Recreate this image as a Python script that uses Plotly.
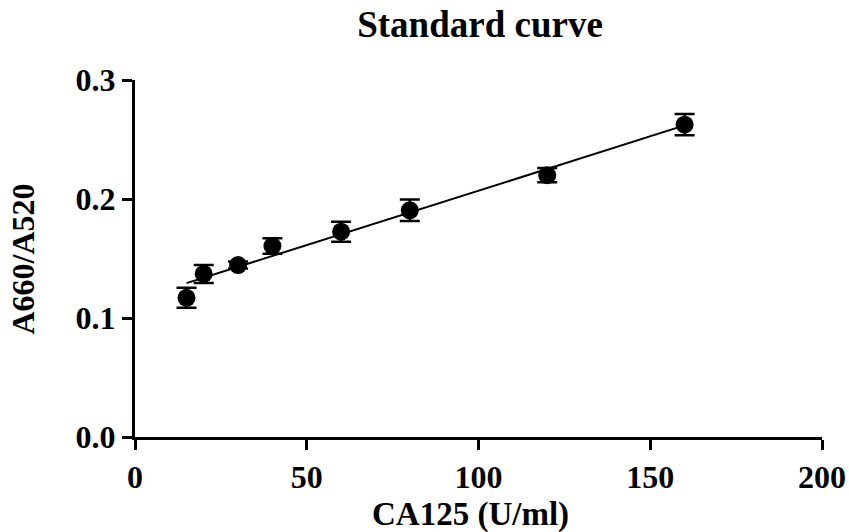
import numpy as np
import plotly.graph_objects as go

conc = [15, 20, 30, 40, 60, 80, 120, 160]
ratio = [0.117, 0.137, 0.1445, 0.1605, 0.1725, 0.1905, 0.220, 0.2625]
err = [0.0084, 0.0076, 0.003, 0.0065, 0.0084, 0.009, 0.006, 0.009]

slope, intercept = np.polyfit(conc, ratio, 1)
fit_x = [min(conc), max(conc)]
fit_y = [slope * v + intercept for v in fit_x]

font = "Liberation Serif"
fig = go.Figure()
fig.add_trace(go.Scatter(x=fit_x, y=fit_y, mode="lines",
                         line=dict(color="black", width=2), showlegend=False))
fig.add_trace(go.Scatter(x=conc, y=ratio, mode="markers",
                         marker=dict(color="black", size=18),
                         error_y=dict(type="data", array=err, color="black", thickness=2.5, width=10),
                         showlegend=False))

fig.update_layout(
    width=849, height=532,
    margin=dict(l=135, r=27, t=80, b=95),
    paper_bgcolor="white", plot_bgcolor="white",
    title=dict(text="<b>Standard curve</b>", x=480 / 849, xanchor="center", y=1 - 24 / 532, yanchor="middle",
               font=dict(family=font, size=37, color="black")),
    font=dict(family=font, color="black"),
    annotations=[
        dict(text="<b>CA125 (U/ml)</b>", xref="paper", yref="paper", x=(470 - 135) / 687, y=-(514 - 437) / 357,
             xanchor="center", yanchor="middle", showarrow=False,
             font=dict(family=font, size=33, color="black")),
        dict(text="<b>A660/A520</b>", xref="paper", yref="paper", x=-(135 - 22) / 687, y=0.5,
             xanchor="center", yanchor="middle", showarrow=False, textangle=-90,
             font=dict(family=font, size=32, color="black")),
    ],
)
fig.update_xaxes(range=[0, 200], tickvals=[0, 50, 100, 150, 200],
                 ticktext=["<b>0</b>", "<b>50</b>", "<b>100</b>", "<b>150</b>", "<b>200</b>"],
                 showgrid=False, zeroline=False, showline=True, linecolor="black", linewidth=3,
                 ticks="outside", ticklen=10, tickwidth=3, tickcolor="black", automargin=False,
                 tickfont=dict(family=font, size=32, color="black"))
fig.update_yaxes(range=[0, 0.3], tickvals=[0, 0.1, 0.2, 0.3],
                 ticktext=["<b>0.0</b>", "<b>0.1</b>", "<b>0.2</b>", "<b>0.3</b>"],
                 showgrid=False, zeroline=False, showline=True, linecolor="black", linewidth=3,
                 ticks="outside", ticklen=10, tickwidth=3, tickcolor="black", automargin=False,
                 tickfont=dict(family=font, size=32, color="black"))

fig.write_html("out.html", config={"displayModeBar": False},
               post_script="document.body.style.margin='0';document.body.style.overflow='hidden';")
